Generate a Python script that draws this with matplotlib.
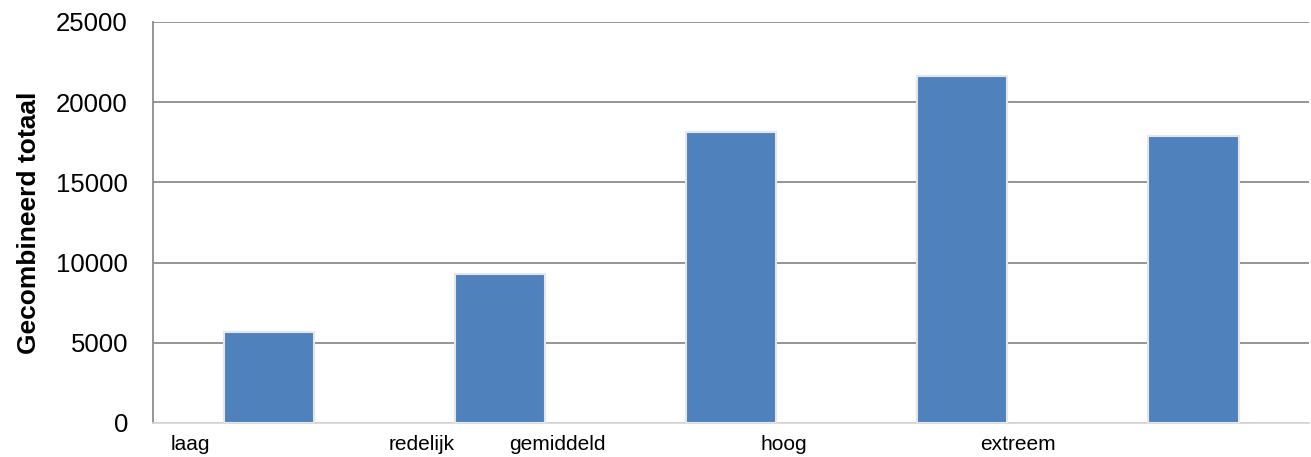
import matplotlib
matplotlib.use("Agg")
import matplotlib.pyplot as plt
import numpy as np

plt.rcParams['font.family'] = ['Liberation Sans', 'DejaVu Sans']

# data
categories = ["laag", "redelijk", "gemiddeld", "hoog", "extreem"]
totals = [5700, 9300, 18150, 21650, 17900]
y_ticks = [0, 5000, 10000, 15000, 20000, 25000]

# the category labels in the source sit off-centre from their bars
label_pos = [-0.34, 0.66, 1.25, 2.23, 3.24]

BAR_COLOR = '#4F81BD'
GRID_COLOR = '#8c8c8c'

fig = plt.figure(figsize=(13.11, 4.57), dpi=100)
ax = fig.add_axes([0.1167, 0.0744, 0.8818, 0.8775])

x = np.arange(len(categories))
ax.bar(x, totals, width=0.39, color=BAR_COLOR, edgecolor='#e6e6e6',
       linewidth=1.5, zorder=3)

ax.set_xlim(-0.5, len(categories) - 0.5)
ax.set_ylim(0, 25000)
ax.set_yticks(y_ticks)
ax.set_yticklabels([str(v) for v in y_ticks], fontsize=18.5)
ax.set_xticks(label_pos)
ax.set_xticklabels(categories, fontsize=15)
ax.tick_params(axis='both', length=0)
ax.tick_params(axis='y', pad=18)
ax.tick_params(axis='x', pad=9)

ax.yaxis.grid(True, color=GRID_COLOR, linewidth=1.3, zorder=0)
ax.set_axisbelow(True)

for side in ['top', 'right']:
    ax.spines[side].set_visible(False)
ax.spines['left'].set_color(GRID_COLOR)
ax.spines['left'].set_linewidth(1.3)
ax.spines['bottom'].set_color('#d9d9d9')
ax.spines['bottom'].set_linewidth(1.3)

ax.set_ylabel("Gecombineerd totaal", fontsize=19, fontweight='bold', labelpad=11)

fig.savefig("out.png", dpi=100)
